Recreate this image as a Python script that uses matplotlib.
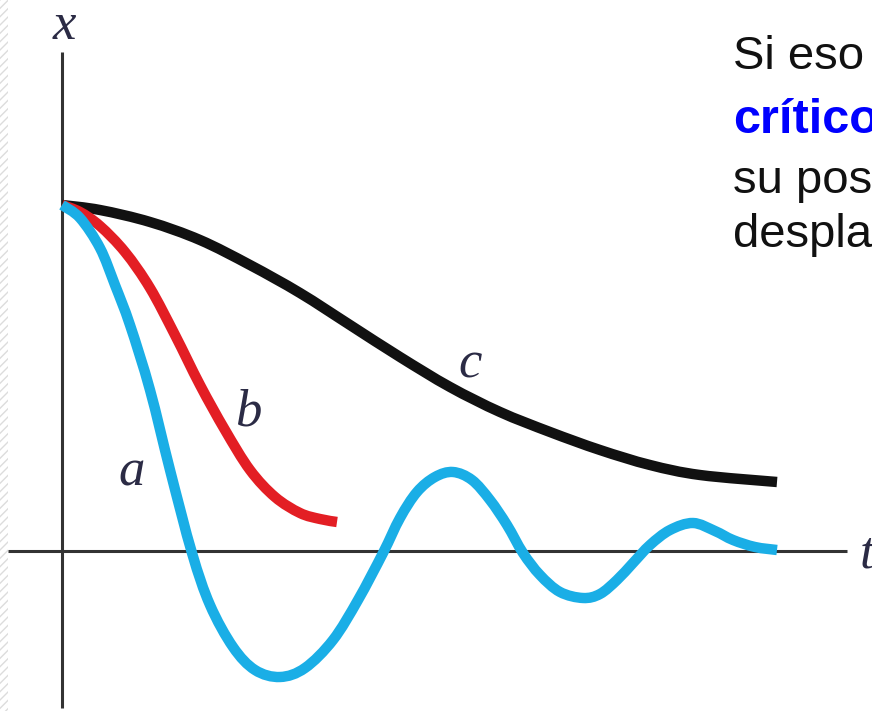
import matplotlib
matplotlib.use("Agg")
import matplotlib.pyplot as plt
from matplotlib.patches import Rectangle, PathPatch
from matplotlib.path import Path

# ---- data (t, x in picture units, origin at the axes crossing)
t_c = [0, 38, 88, 138, 188, 238, 288, 338, 388, 438, 488, 538, 588, 638, 715]
x_c = [346, 341, 329, 311, 286, 258, 226, 194, 164, 139, 119, 101, 86, 76, 69]

t_b = [0, 18, 38, 63, 88, 113, 138, 163, 188, 213, 238, 258, 275]
x_b = [346, 339, 325, 299, 263, 216, 166, 121, 81, 54, 38, 32, 29]

t_a = [0, 18, 38, 53, 68, 88, 108, 130, 148, 171, 193, 218, 243, 271, 296, 321,
       338, 355, 373, 391, 410, 428, 445, 461, 478, 498, 521, 538, 555, 571, 588,
       608, 631, 653, 671, 693, 715]
x_a = [346, 333, 303, 266, 226, 161, 81, -2, -54, -96, -119, -126, -117, -89, -49, -2,
       33, 59, 74, 79, 71, 51, 26, -2, -24, -41, -47, -43, -29, -12, 6,
       21, 28, 20, 11, 4, 1]

curve_labels = ["a", "b", "c"]
side_lines = ["Si eso", "crítico", "su pos", "despla"]


def smooth_path(ts, xs):
    """Bezier path passing through every data point (Catmull-Rom tangents)."""
    pts = list(zip(ts, xs))
    n = len(pts)
    verts = [pts[0]]
    codes = [Path.MOVETO]
    for i in range(n - 1):
        p0 = pts[i - 1] if i > 0 else pts[i]
        p1 = pts[i]
        p2 = pts[i + 1]
        p3 = pts[i + 2] if i + 2 < n else pts[i + 1]
        c1 = (p1[0] + (p2[0] - p0[0]) / 6.0, p1[1] + (p2[1] - p0[1]) / 6.0)
        c2 = (p2[0] - (p3[0] - p1[0]) / 6.0, p2[1] - (p3[1] - p1[1]) / 6.0)
        verts += [c1, c2, p2]
        codes += [Path.CURVE4] * 3
    return Path(verts, codes)


fig = plt.figure(figsize=(8.72, 7.11), dpi=100)
ax = fig.add_axes([0, 0, 1, 1])
ax.set_xlim(-62, 810)
ax.set_ylim(-160, 551)
ax.axis("off")

# faint hatched strip at left edge
ax.add_patch(Rectangle((-62, -160), 8, 711, facecolor="white", edgecolor="#dcdcdc",
                       hatch="////", linewidth=0, zorder=0))

# axes lines
ax.vlines(0, -157, 499, color="#333333", lw=2.2, zorder=2)
ax.hlines(0, -54, 785, color="#333333", lw=2.2, zorder=2)

lw = 7.5
for ts, xs, col, z in [(t_c, x_c, "#111111", 3),
                       (t_b, x_b, "#E31E24", 4),
                       (t_a, x_a, "#1AAEE6", 5)]:
    ax.add_patch(PathPatch(smooth_path(ts, xs), facecolor="none", edgecolor=col,
                           lw=lw, capstyle="butt", joinstyle="round", zorder=z))

serif = dict(family=["Liberation Serif", "DejaVu Serif"], style="italic",
             fontsize=38, color="#2b2b45", va="baseline", ha="left")
ax.text(-9, 512, "x", **serif)
ax.text(56, 66, curve_labels[0], **serif)
ax.text(173, 126, curve_labels[1], **serif)
ax.text(396, 174, curve_labels[2], **serif)
ax.text(798, -16, "t", **serif)

sans = dict(family=["Liberation Sans", "DejaVu Sans"], va="baseline", ha="left")
ax.text(671, 551 - 69, side_lines[0], color="#111111", fontsize=34, **sans)
ax.text(671, 551 - 133, side_lines[1], color="#0000FF", fontweight="bold", fontsize=35, **sans)
ax.text(671, 551 - 193, side_lines[2], color="#111111", fontsize=34, **sans)
ax.text(671, 551 - 247, side_lines[3], color="#111111", fontsize=34, **sans)

fig.savefig("out.png", dpi=100)
